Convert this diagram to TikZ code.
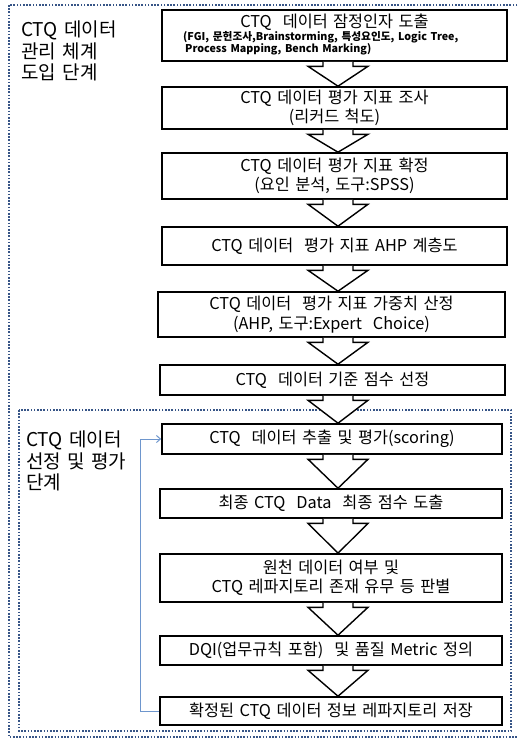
\documentclass[tikz,border=0pt]{standalone}
\usepackage{fontspec}
\setmainfont{Noto Sans CJK KR}[WordSpace=1.5]
\usetikzlibrary{calc,arrows.meta}
\definecolor{framecol}{RGB}{55,85,135}
\definecolor{fbcol}{RGB}{110,150,205}
\tikzset{
  stepbox/.style={draw=black, line width=1.6pt, fill=white, align=center, inner sep=0pt,
    font=\fontsize{16.3}{19.5}\selectfont},
  blk/.style={draw=black, line width=1.4pt, fill=white, line join=miter},
  stage/.style={draw=framecol, line width=1.5pt, dash pattern=on 1.6pt off 1.6pt},
  stagelabel/.style={anchor=north west, align=left, inner sep=0pt,
    font=\fontsize{19}{21.5}\selectfont},
  feedback/.style={draw=fbcol, line width=1pt, -{Straight Barb[length=4pt,width=7pt]}}
}
\newcommand{\blockarrow}[2]{%
  \draw[blk] let \p1=(#1.south), \p2=(#2.north) in
    (338pt-15pt,\y1) -- (338pt-15pt,\y1-4.5pt) -- (338pt-30pt,\y1-4.5pt) --
    (338pt,\y2) -- (338pt+30pt,\y1-4.5pt) -- (338pt+15pt,\y1-4.5pt) -- (338pt+15pt,\y1);}
\begin{document}
\begin{tikzpicture}[x=1pt,y=-1pt]
\useasboundingbox (0,0) rectangle (517,739);
% frames
\draw[stage] (9,5) rectangle (520,737);
\draw[stage] (19,410) rectangle (511,731);
% stage labels
\node[stagelabel] (l1) at (21,21) {CTQ 데이터\\관리 체계\\도입 단계};
\node[stagelabel] (l2) at (26,431) {CTQ 데이터\\선정 및 평가\\단계};
% boxes
\node[stepbox, minimum width=345, minimum height=51] (b1) at (334.5,35.5) {};
\node[anchor=center, inner sep=0pt, font=\fontsize{16.3}{19.5}\selectfont] (b1t) at (334.5,22.5) {CTQ\ \ 데이터 잠정인자 도출};
\node[anchor=north west, align=left, inner sep=0pt, font=\fontsize{10.7}{11.8}\selectfont\bfseries] (b1s) at (183,31.5)
  {(FGI, 문헌조사,Brainstorming, 특성요인도, Logic Tree,\\\hspace*{2pt}Process Mapping, Bench Marking)};
\node[stepbox, minimum width=345, minimum height=42] (b2) at (334.5,108) {CTQ 데이터 평가 지표 조사\\(리커드 척도)};
\node[stepbox, minimum width=345, minimum height=46] (b3) at (334.5,176) {CTQ 데이터 평가 지표 확정\\(요인 분석, 도구:SPSS)};
\node[stepbox, minimum width=345, minimum height=38] (b4) at (334.5,246) {CTQ 데이터\ \ 평가 지표 AHP 계층도};
\node[stepbox, minimum width=347, minimum height=45] (b5) at (331.5,314.5) {CTQ 데이터\ \ 평가 지표 가중치 산정\\(AHP, 도구:Expert\ \ Choice)};
\node[stepbox, minimum width=345, minimum height=30] (b6) at (332.5,380) {CTQ\ \ 데이터 기준 점수 선정};
\node[stepbox, minimum width=340, minimum height=30] (b7) at (332,439) {CTQ\ \ 데이터 추출 및 평가(scoring)};
\node[stepbox, minimum width=342, minimum height=29] (b8) at (331,503.5) {최종 CTQ\ \ Data\ \ 최종 점수 도출};
\node[stepbox, minimum width=342, minimum height=48] (b9) at (331,578) {원천 데이터 여부 및\\CTQ 레파지토리 존재 유무 등 판별};
\node[stepbox, minimum width=342, minimum height=29] (b10) at (331,650.5) {DQI(업무규칙 포함)\ \ 및 품질 Metric 정의};
\node[stepbox, minimum width=342, minimum height=28] (b11) at (331,711) {확정된 CTQ 데이터 정보 레파지토리 저장};
% block arrows
\blockarrow{b1}{b2}
\blockarrow{b2}{b3}
\blockarrow{b3}{b4}
\blockarrow{b4}{b5}
\blockarrow{b5}{b6}
\blockarrow{b6}{b7}
\blockarrow{b7}{b8}
\blockarrow{b8}{b9}
\blockarrow{b9}{b10}
\blockarrow{b10}{b11}
% feedback loop
\coordinate (fbx) at (140,0);
\draw[feedback] (b11.west) -- (b11.west -| fbx) |- (b7.west);
\end{tikzpicture}
\end{document}
